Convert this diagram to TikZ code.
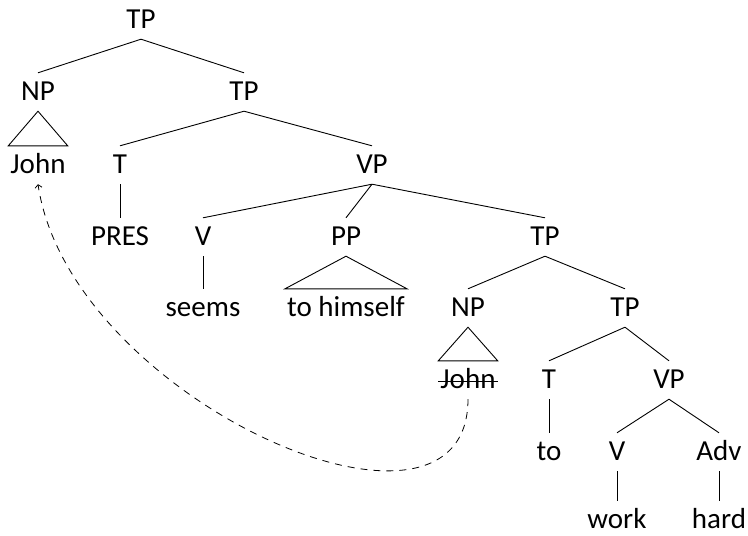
\documentclass[tikz,border=0pt]{standalone}
\usepackage{fontspec}
\setmainfont{Carlito}
\usetikzlibrary{arrows.meta}
\begin{document}
\begin{tikzpicture}[x=1pt,y=-1pt,
  lbl/.style={anchor=base,inner xsep=2pt,inner ysep=0pt,text height=27pt,text depth=11pt,font=\fontsize{29}{34}\selectfont},
  leaf/.style={lbl,text depth=2pt},
  edge/.style={line width=0.9pt},
  tri/.style={line width=0.9pt},
  mv/.style={line width=0.8pt,dash pattern=on 7pt off 6pt,-{Straight Barb[length=3pt,width=7pt]}}]
\useasboundingbox (0,0) rectangle (748,536);
% level 0
\node[lbl] (tp0) at (141,28) {TP};
% level 1
\node[lbl] (np1) at (38,100) {NP};
\node[lbl] (tp1) at (244,100) {TP};
% level 2
\node[lbl] (john1) at (38,173) {John};
\node[lbl] (t1) at (120,173) {T};
\node[lbl] (vp1) at (372,173) {VP};
% level 3
\node[lbl] (pres) at (120,245) {PRES};
\node[lbl] (v1) at (203,245) {V};
\node[lbl] (pp) at (346,245) {PP};
\node[lbl] (tp2) at (545,245) {TP};
% level 4
\node[lbl] (seems) at (203,316) {seems};
\node[lbl] (himself) at (346,316) {to himself};
\node[lbl] (np2) at (468,316) {NP};
\node[lbl] (tp3) at (625,316) {TP};
% level 5
\node[lbl] (john2) at (468,388) {John};
\node[lbl] (t2) at (549,388) {T};
\node[lbl] (vp2) at (669,388) {VP};
% level 6
\node[lbl] (to) at (549,460) {to};
\node[lbl] (v2) at (617,460) {V};
\node[lbl] (adv) at (719,460) {Adv};
% level 7
\node[leaf] (work) at (617,528) {work};
\node[leaf] (hard) at (719,528) {hard};
% edges
\draw[edge] (tp0.south) -- (np1.north);
\draw[edge] (tp0.south) -- (tp1.north);
\draw[edge] (tp1.south) -- (t1.north);
\draw[edge] (tp1.south) -- (vp1.north);
\draw[edge] (t1.south) -- (pres.north);
\draw[edge] (vp1.south) -- (v1.north);
\draw[edge] (vp1.south) -- (pp.north);
\draw[edge] (vp1.south) -- (tp2.north);
\draw[edge] (v1.south) -- (seems.north);
\draw[edge] (tp2.south) -- (np2.north);
\draw[edge] (tp2.south) -- (tp3.north);
\draw[edge] (tp3.south) -- (t2.north);
\draw[edge] (tp3.south) -- (vp2.north);
\draw[edge] (t2.south) -- (to.north);
\draw[edge] (vp2.south) -- (v2.north);
\draw[edge] (vp2.south) -- (adv.north);
\draw[edge] (v2.south) -- (work.north);
\draw[edge] (adv.south) -- (hard.north);
% triangles
\draw[tri] (np1.south) -- (john1.north west) -- (john1.north east) -- cycle;
\draw[tri] (pp.south) -- (himself.north west) -- (himself.north east) -- cycle;
\draw[tri] (np2.south) -- (john2.north west) -- (john2.north east) -- cycle;
% strike-through
\draw[line width=0.9pt] ([yshift=7pt]john2.base west) -- ([yshift=7pt]john2.base east);
% movement
\draw[mv] (john2.south) .. controls +(0,175) and (70,400) .. (john1.south);
\end{tikzpicture}
\end{document}
